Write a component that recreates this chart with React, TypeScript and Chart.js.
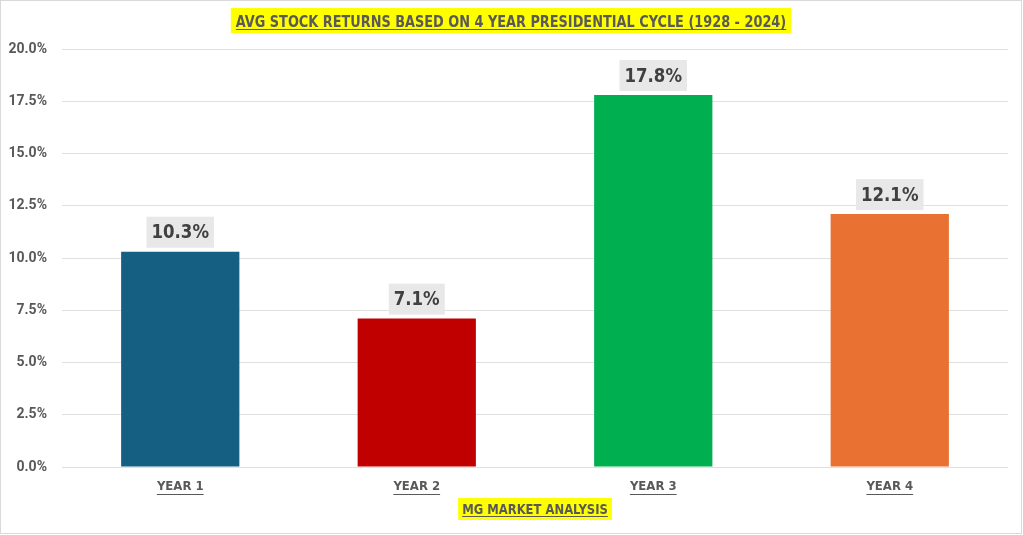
import React, { useEffect, useRef } from "react";
import { Chart, registerables } from "chart.js";

Chart.register(...registerables);

const categories = ["YEAR 1", "YEAR 2", "YEAR 3", "YEAR 4"];
const returnsPct = [10.3, 7.1, 17.8, 12.1];
const barColors = ["#156082", "#C00000", "#00B050", "#E97132"];
const yTickValues = [0, 2.5, 5, 7.5, 10, 12.5, 15, 17.5, 20];
const titleText = "AVG STOCK RETURNS BASED ON 4 YEAR PRESIDENTIAL CYCLE (1928 - 2024)";
const footerText = "MG MARKET ANALYSIS";

const NARROW = "'Liberation Sans Narrow', 'DejaVu Sans Condensed', 'Roboto Condensed', 'Liberation Sans', sans-serif";
const TEXT_GRAY = "#595959";

const framePlugin = {
  id: "frame",
  beforeDraw(chart: any) {
    const ctx = chart.ctx;
    ctx.save();
    ctx.fillStyle = "#ffffff";
    ctx.fillRect(0, 0, chart.width, chart.height);
    ctx.strokeStyle = "#d9d9d9";
    ctx.lineWidth = 1;
    ctx.strokeRect(0.5, 0.5, chart.width - 2, chart.height - 2);
    ctx.restore();
  },
};

function drawBoxedText(
  ctx: any,
  text: string,
  cx: number,
  baseline: number,
  font: string,
  sx: number,
  boxTop: number,
  boxBottom: number,
  padX: number,
  underlineY: number
) {
  ctx.save();
  ctx.font = font;
  const w = ctx.measureText(text).width * sx;
  ctx.fillStyle = "#FFFF00";
  ctx.fillRect(cx - w / 2 - padX, boxTop, w + padX * 2, boxBottom - boxTop);
  ctx.fillStyle = TEXT_GRAY;
  ctx.textAlign = "center";
  ctx.textBaseline = "alphabetic";
  ctx.save();
  ctx.translate(cx, baseline);
  ctx.scale(sx, 1);
  ctx.fillText(text, 0, 0);
  ctx.restore();
  ctx.strokeStyle = TEXT_GRAY;
  ctx.lineWidth = 1;
  ctx.beginPath();
  ctx.moveTo(cx - w / 2, underlineY + 0.5);
  ctx.lineTo(cx + w / 2, underlineY + 0.5);
  ctx.stroke();
  ctx.restore();
}

const decorPlugin = {
  id: "decor",
  afterDraw(chart: any) {
    const ctx = chart.ctx;
    const area = chart.chartArea;
    drawBoxedText(ctx, titleText, 511, 27, `bold 16px ${NARROW}`, 0.895, 8, 33, 5, 29);
    drawBoxedText(ctx, footerText, (area.left + area.right) / 2, 514, `bold 14px ${NARROW}`, 0.92, 498, 520, 4, 516);
    const xs = chart.scales.x;
    ctx.save();
    ctx.font = `bold 13px ${NARROW}`;
    ctx.strokeStyle = TEXT_GRAY;
    ctx.lineWidth = 1;
    xs.ticks.forEach((_t: any, i: number) => {
      const px = xs.getPixelForTick(i);
      const w = ctx.measureText(categories[i]).width;
      ctx.beginPath();
      ctx.moveTo(px - w / 2, 494.5);
      ctx.lineTo(px + w / 2, 494.5);
      ctx.stroke();
    });
    ctx.restore();
  },
};

const labelPlugin = {
  id: "barLabels",
  afterDatasetsDraw(chart: any) {
    const ctx = chart.ctx;
    const meta = chart.getDatasetMeta(0);
    const sx = 0.92;
    ctx.save();
    ctx.font = `bold 20px ${NARROW}`;
    ctx.textAlign = "center";
    ctx.textBaseline = "middle";
    meta.data.forEach((bar: any, i: number) => {
      const text = returnsPct[i].toFixed(1) + "%";
      const w = ctx.measureText(text).width * sx;
      const boxH = 31;
      const boxBottom = bar.y - 4;
      const boxTop = boxBottom - boxH;
      ctx.fillStyle = "#E8E8E8";
      ctx.fillRect(bar.x - w / 2 - 5, boxTop, w + 10, boxH);
      ctx.fillStyle = "#404040";
      ctx.save();
      ctx.translate(bar.x, boxTop + boxH / 2 + 1);
      ctx.scale(sx, 1);
      ctx.fillText(text, 0, 0);
      ctx.restore();
    });
    ctx.restore();
  },
};

export default function App() {
  const ref = useRef<HTMLCanvasElement | null>(null);
  useEffect(() => {
    document.body.style.margin = "0";
    const canvas = ref.current;
    if (!canvas) return;
    const chart = new Chart(canvas, {
      type: "bar",
      data: {
        labels: categories,
        datasets: [
          {
            data: returnsPct,
            backgroundColor: barColors,
            borderWidth: 0,
            barPercentage: 0.5,
            categoryPercentage: 1,
          },
        ],
      },
      options: {
        animation: false,
        responsive: false,
        maintainAspectRatio: false,
        layout: { padding: { left: 0, right: 15, top: 49, bottom: 0 } },
        plugins: {
          legend: { display: false },
          title: { display: false },
          tooltip: { enabled: false },
        },
        scales: {
          x: {
            grid: { display: false, drawTicks: false },
            border: { display: false },
            ticks: {
              color: TEXT_GRAY,
              font: { family: NARROW, size: 13, weight: "bold" },
              padding: 12,
            },
            afterFit(scale: any) {
              scale.height = 68;
            },
          },
          y: {
            min: 0,
            max: 20,
            afterBuildTicks(scale: any) {
              scale.ticks = yTickValues.map((v) => ({ value: v }));
            },
            grid: { color: "#E0E0E0", drawTicks: false, lineWidth: 1 },
            border: { display: false },
            ticks: {
              color: TEXT_GRAY,
              font: { family: "Roboto, 'Liberation Sans', Arial, sans-serif", size: 14, weight: "bold" },
              padding: 15,
              callback: (v: any) => Number(v).toFixed(1) + "%",
            },
            afterFit(scale: any) {
              scale.width = 62;
            },
          },
        },
      },
      plugins: [framePlugin, labelPlugin, decorPlugin],
    });
    return () => chart.destroy();
  }, []);
  return (
    <div style={{ width: 1023, height: 535 }}>
      <canvas ref={ref} width={1023} height={535} style={{ display: "block" }} />
    </div>
  );
}
